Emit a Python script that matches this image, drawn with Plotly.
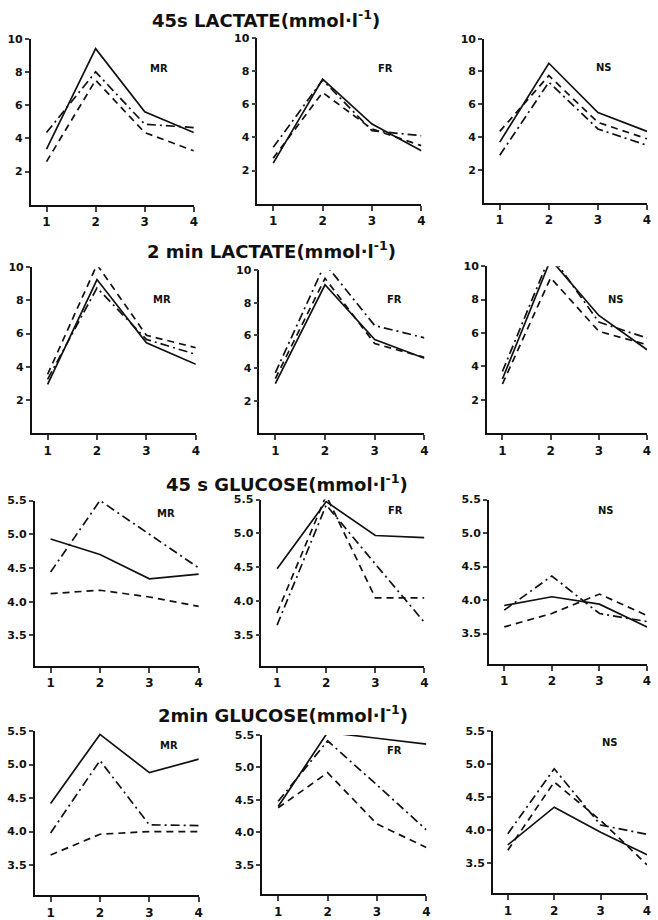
import plotly.graph_objects as go

X = [1, 2, 3, 4]
X_TICKS = [1, 2, 3, 4]
LAC_TICKS = [2, 4, 6, 8, 10]
GLU_TICKS = [3.5, 4.0, 4.5, 5.0, 5.5]

TITLES = ["45s LACTATE(mmol·l<sup>-1</sup>)", "2 min LACTATE(mmol·l<sup>-1</sup>)",
          "45 s GLUCOSE(mmol·l<sup>-1</sup>)", "2min GLUCOSE(mmol·l<sup>-1</sup>)"]
GROUPS = ["MR", "FR", "NS"]

# 45 s lactate
LAC45_MR_SOLID = [3.35, 9.4, 5.6, 4.35]
LAC45_MR_DASH = [2.6, 7.5, 4.35, 3.25]
LAC45_MR_DASHDOT = [4.35, 8.0, 4.85, 4.65]
LAC45_FR_SOLID = [2.45, 7.5, 4.8, 3.2]
LAC45_FR_DASH = [2.75, 6.7, 4.5, 3.5]
LAC45_FR_DASHDOT = [3.4, 7.45, 4.4, 4.1]
LAC45_NS_SOLID = [3.7, 8.5, 5.5, 4.35]
LAC45_NS_DASH = [4.35, 7.75, 4.9, 3.9]
LAC45_NS_DASHDOT = [2.9, 7.35, 4.5, 3.5]
# 2 min lactate
LAC2_MR_SOLID = [2.95, 9.25, 5.45, 4.15]
LAC2_MR_DASH = [3.55, 10.15, 5.9, 5.15]
LAC2_MR_DASHDOT = [3.25, 8.75, 5.65, 4.75]
LAC2_FR_SOLID = [3.05, 9.1, 5.75, 4.6]
LAC2_FR_DASH = [3.35, 9.5, 5.5, 4.65]
LAC2_FR_DASHDOT = [3.7, 10.4, 6.6, 5.85]
LAC2_NS_SOLID = [3.25, 10.4, 7.05, 5.0]
LAC2_NS_DASH = [2.95, 9.3, 6.1, 5.3]
LAC2_NS_DASHDOT = [3.7, 10.7, 6.65, 5.7]
# 45 s glucose
GLU45_MR_SOLID = [4.93, 4.7, 4.34, 4.41]
GLU45_MR_DASH = [4.12, 4.17, 4.07, 3.93]
GLU45_MR_DASHDOT = [4.44, 5.5, 5.0, 4.5]
GLU45_FR_SOLID = [4.48, 5.47, 4.97, 4.94]
GLU45_FR_DASH = [3.83, 5.56, 4.05, 4.05]
GLU45_FR_DASHDOT = [3.65, 5.42, 4.55, 3.69]
GLU45_NS_SOLID = [3.92, 4.05, 3.94, 3.6]
GLU45_NS_DASH = [3.6, 3.8, 4.09, 3.77]
GLU45_NS_DASHDOT = [3.85, 4.36, 3.8, 3.68]
# 2 min glucose
GLU2_MR_SOLID = [4.42, 5.45, 4.88, 5.08]
GLU2_MR_DASH = [3.65, 3.96, 4.0, 4.0]
GLU2_MR_DASHDOT = [3.98, 5.06, 4.1, 4.09]
GLU2_FR_SOLID = [4.4, 5.54, 5.45, 5.36]
GLU2_FR_DASH = [4.38, 4.92, 4.13, 3.77]
GLU2_FR_DASHDOT = [4.48, 5.41, 4.73, 4.04]
GLU2_NS_SOLID = [3.78, 4.35, 3.97, 3.63]
GLU2_NS_DASH = [3.7, 4.73, 4.15, 3.48]
GLU2_NS_DASHDOT = [3.95, 4.93, 4.08, 3.94]

PANELS = [
    [(LAC45_MR_SOLID, LAC45_MR_DASH, LAC45_MR_DASHDOT),
     (LAC45_FR_SOLID, LAC45_FR_DASH, LAC45_FR_DASHDOT),
     (LAC45_NS_SOLID, LAC45_NS_DASH, LAC45_NS_DASHDOT)],
    [(LAC2_MR_SOLID, LAC2_MR_DASH, LAC2_MR_DASHDOT),
     (LAC2_FR_SOLID, LAC2_FR_DASH, LAC2_FR_DASHDOT),
     (LAC2_NS_SOLID, LAC2_NS_DASH, LAC2_NS_DASHDOT)],
    [(GLU45_MR_SOLID, GLU45_MR_DASH, GLU45_MR_DASHDOT),
     (GLU45_FR_SOLID, GLU45_FR_DASH, GLU45_FR_DASHDOT),
     (GLU45_NS_SOLID, GLU45_NS_DASH, GLU45_NS_DASHDOT)],
    [(GLU2_MR_SOLID, GLU2_MR_DASH, GLU2_MR_DASHDOT),
     (GLU2_FR_SOLID, GLU2_FR_DASH, GLU2_FR_DASHDOT),
     (GLU2_NS_SOLID, GLU2_NS_DASH, GLU2_NS_DASHDOT)],
]

W, H = 658, 920
# pixel boxes: left (y-axis), right (x=4), top (max tick), bottom (x-axis)
BOXES = [
    [(31, 195, 33, 201), (259, 424, 32, 200), (487, 651, 33, 199)],
    [(32, 197, 264, 432), (261, 427, 267, 432), (490, 651, 263, 432)],
    [(35, 200, 500, 667), (263, 427, 499, 667), (492, 651, 499, 665)],
    [(35, 200, 733, 899), (264, 429, 737, 898), (496, 651, 733, 897)],
]
LABEL_POS = [
    [(160, 63), (388, 63), (608, 62)],
    [(163, 297), (397, 297), (620, 297)],
    [(167, 513), (398, 510), (610, 510)],
    [(170, 748), (397, 753), (614, 745)],
]
TITLE_POS = [(268, 13), (273, 247), (289, 482), (285, 716)]

DASHES = ["solid", "7px,5px", "9px,4px,2px,4px"]

fig = go.Figure()
annotations = []
layout = {}
k = 0
for r in range(4):
    for c in range(3):
        k += 1
        xa = "xaxis" if k == 1 else f"xaxis{k}"
        ya = "yaxis" if k == 1 else f"yaxis{k}"
        xr = "x" if k == 1 else f"x{k}"
        yr = "y" if k == 1 else f"y{k}"
        l, rr, t, b = BOXES[r][c]
        lac = r < 2
        yrange = [0, 10] if lac else [3.05, 5.5]
        for series, dash in zip(PANELS[r][c], DASHES):
            fig.add_trace(go.Scatter(x=X, y=series, mode="lines", xaxis=xr, yaxis=yr,
                                     line=dict(color="#111", width=1.7, dash=dash),
                                     showlegend=False, hoverinfo="skip"))
        layout[xa] = dict(domain=[l / W, rr / W], range=[0.68, 4.0], anchor=yr,
                          tickvals=X_TICKS, ticks="outside", ticklen=5, tickwidth=1.5,
                          showline=True, linecolor="#111", linewidth=1.8,
                          showgrid=False, zeroline=False,
                          tickfont=dict(family="DejaVu Sans", size=12, color="#111", weight="bold"))
        layout[ya] = dict(domain=[1 - b / H, 1 - t / H], range=yrange, anchor=xr,
                          tickvals=LAC_TICKS if lac else GLU_TICKS,
                          tickformat="d" if lac else ".1f",
                          ticks="outside", ticklen=4, tickwidth=1.5,
                          showline=True, linecolor="#111", linewidth=1.8,
                          showgrid=False, zeroline=False,
                          tickfont=dict(family="DejaVu Sans", size=11, color="#111", weight="bold"))
        lx, ly = LABEL_POS[r][c]
        annotations.append(dict(x=lx / W, y=1 - ly / H, xref="paper", yref="paper",
                                xanchor="center", yanchor="middle",
                                text=GROUPS[c], showarrow=False,
                                font=dict(family="DejaVu Sans", size=10, color="#111", weight="bold")))
    tx, ty = TITLE_POS[r]
    annotations.append(dict(x=tx / W, y=1 - ty / H, xref="paper", yref="paper",
                            xanchor="center", yanchor="middle",
                            text=TITLES[r], showarrow=False,
                            font=dict(family="DejaVu Sans", size=18, color="#111", weight="bold")))

fig.update_layout(width=W, height=H, margin=dict(l=0, r=0, t=0, b=0),
                  paper_bgcolor="white", plot_bgcolor="white",
                  annotations=annotations, **layout)
fig.write_html("out.html", config={"displayModeBar": False},
               post_script="document.body.style.margin='0';document.body.style.overflow='hidden';")
